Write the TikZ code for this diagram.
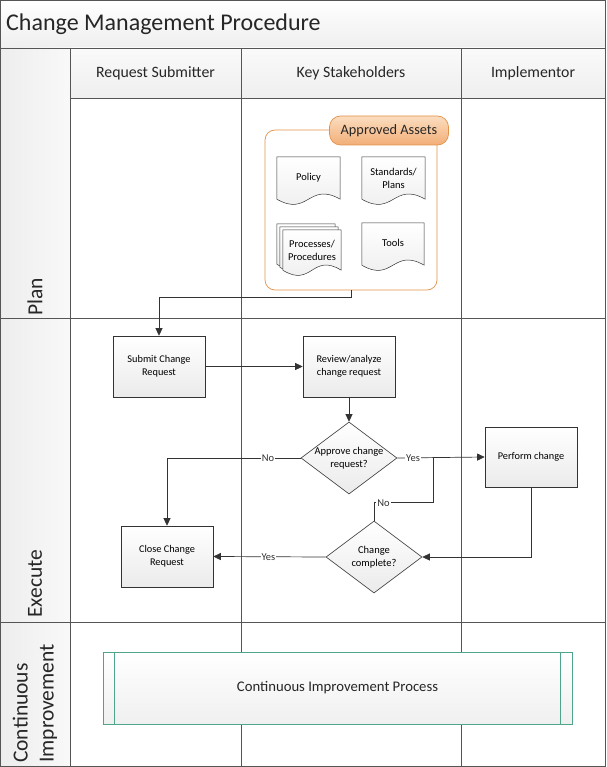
\documentclass[tikz,border=0pt]{standalone}
\usepackage{fontspec}
\setmainfont{Carlito}
\usetikzlibrary{shapes.geometric,arrows.meta,calc}
\definecolor{lineC}{HTML}{333333}
\definecolor{borderC}{HTML}{555555}
\definecolor{orangeC}{HTML}{E3924A}
\definecolor{tabTop}{HTML}{FBDDC0}
\definecolor{tabBot}{HTML}{F2AE77}
\definecolor{tealC}{HTML}{4FA58C}
\pgfdeclarelayer{back}
\pgfdeclarelayer{mid}
\pgfsetlayers{back,mid,main}
\newcommand\docshape[2]{%
  \draw[docline] ($(#1.north west)+(#2)$) -- ($(#1.north east)+(#2)$) -- ($(#1.south east)+(#2)$)
   .. controls ($($(#1.south east)!0.5!(#1.south west)$)+(#2)+(0,-18)$) and ($($(#1.south east)!0.5!(#1.south west)$)+(#2)+(0,18)$) ..
   ($(#1.south west)+(#2)$) -- cycle;}
\begin{document}
\begin{tikzpicture}[x=1pt,y=-1pt,
  grid/.style={draw=borderC,line width=0.7pt},
  docline/.style={draw=lineC,line width=0.5pt,top color=white,bottom color=gray!15},
  docnode/.style={draw=none,minimum width=63pt,minimum height=42pt,inner sep=0pt,align=center,font=\fontsize{10.5}{13}\selectfont},
  box/.style={draw=lineC,line width=0.6pt,top color=white,bottom color=gray!16,minimum width=92pt,minimum height=61pt,inner sep=1pt,align=center,font=\fontsize{10.3}{13}\selectfont},
  diam/.style={shape=diamond,draw=lineC,line width=0.6pt,top color=white,bottom color=gray!16,minimum width=96pt,minimum height=72pt,inner sep=0pt,shape aspect=1.333},
  dtext/.style={align=center,font=\fontsize{10.5}{13}\selectfont},
  arr/.style={draw=lineC,line width=0.7pt,-{Triangle[length=7.5pt,width=7pt]}},
  ln/.style={draw=lineC,line width=0.7pt},
  lbl/.style={fill=white,inner sep=1pt,font=\fontsize{10.5}{12}\selectfont,text=lineC},
  hdr/.style={font=\fontsize{15.8}{18}\selectfont,text=black!85},
  lane/.style={rotate=90,anchor=west,inner sep=1pt,font=\fontsize{21.5}{26}\selectfont,align=left,text=black!85}
]
\useasboundingbox (0,0) rectangle (606,767);
\begin{pgfonlayer}{back}
  % title bar
  \path[top color=white,bottom color=gray!13] (0,0) rectangle (605,48);
  % header row
  \path[top color=gray!4,bottom color=gray!13] (70,48) rectangle (605,98);
  % lane label column
  \path[left color=gray!14,right color=gray!5] (0,48) rectangle (70,318);
  \path[left color=gray!14,right color=gray!5] (0,318) rectangle (70,622);
  \path[left color=gray!14,right color=gray!5] (0,622) rectangle (70,766);
  % grid
  \draw[grid] (0,48) -- (605,48);
  \draw[grid] (70,98) -- (605,98);
  \draw[grid] (0,318) -- (605,318);
  \draw[grid] (0,622) -- (605,622);
  \draw[grid] (70,48) -- (70,766);
  \draw[grid] (241,48) -- (241,766);
  \draw[grid] (461,48) -- (461,766);
  \draw[grid] (0.5,0.5) rectangle (605,766);
\end{pgfonlayer}

% title and headers
\node[anchor=west,inner sep=0pt,font=\fontsize{24}{28}\selectfont,text=black!85] (title) at (6,24) {Change Management Procedure};
\node[hdr] (h1) at (155.5,73) {Request Submitter};
\node[hdr] (h2) at (351,73) {Key Stakeholders};
\node[hdr] (h3) at (533,73) {Implementor};

% lane labels
\node[lane] (lplan) at (35,317) {Plan};
\node[lane] (lexec) at (35,619) {Execute};
\node[lane] (lci) at (35,764) {Continuous\\Improvement};

% Approved assets container
\node[draw=orangeC,line width=0.7pt,rounded corners=10pt,minimum width=172pt,minimum height=160pt,inner sep=0pt] (assets) at (351,210) {};
\node[draw=orangeC,line width=0.7pt,rounded corners=11pt,top color=tabTop,bottom color=tabBot,minimum width=119pt,minimum height=29pt,inner sep=0pt,font=\fontsize{14.3}{16}\selectfont,text=black!85] (tab) at (389,130.5) {Approved Assets};

% documents
\node[docnode] (policy) at (308.5,178) {\raisebox{2pt}{Policy}};
\node[docnode] (standards) at (393.5,178) {Standards/\\Plans};
\node[docnode,minimum width=58pt,minimum height=40pt] (processes) at (312,250) {Processes/\\Procedures};
\node[docnode,minimum width=62pt] (tools) at (393,244) {\raisebox{2pt}{Tools}};
\begin{pgfonlayer}{mid}
  \docshape{policy}{0,0}
  \docshape{standards}{0,0}
  \docshape{processes}{-6,-6}
  \docshape{processes}{-3,-3}
  \docshape{processes}{0,0}
  \docshape{tools}{0,0}
\end{pgfonlayer}

% process boxes
\node[box] (submit) at (159,366.5) {Submit Change\\Request};
\node[box] (review) at (349,366.5) {Review/analyze\\change request};
\node[diam,label={[dtext]center:Approve change\\request?}] (approve) at (349,458) {};
\node[box,minimum height=60pt] (perform) at (531,457) {Perform change};
\node[diam,label={[dtext]center:Change\\complete?}] (change) at (374,557) {};
\node[box] (close) at (167,556.5) {Close Change\\Request};
\coordinate (join) at (433,457);

% connectors
\draw[arr] (assets.south) -- ++(0,7) -| (submit.north);
\draw[arr] (submit.east) -- (review.west);
\draw[arr] (review.south) -- (approve.north);
\draw[arr] (approve.west) -| node[lbl,pos=0.122]{No} (close.north);
\draw[arr] (approve.east) -- node[lbl,pos=0.18]{Yes} (perform.west);
\draw[arr] (perform.south) |- (change.east);
\draw[ln] (change.north) -- ++(0,-18) -| node[lbl,pos=0.08]{No} (join);
\draw[arr] (change.west) -- node[lbl,pos=0.51]{Yes} (close.east);

% continuous improvement process
\node[draw=tealC,line width=0.7pt,top color=white,bottom color=gray!12,minimum width=469pt,minimum height=72pt,inner sep=0pt,font=\fontsize{14.7}{17}\selectfont,text=black!85] (ci) at (337.5,688) {Continuous Improvement Process};
\draw[draw=tealC,line width=0.7pt] ($(ci.north west)+(12,0)$) -- ($(ci.south west)+(12,0)$);
\draw[draw=tealC,line width=0.7pt] ($(ci.north east)+(-12,0)$) -- ($(ci.south east)+(-12,0)$);
\end{tikzpicture}
\end{document}
